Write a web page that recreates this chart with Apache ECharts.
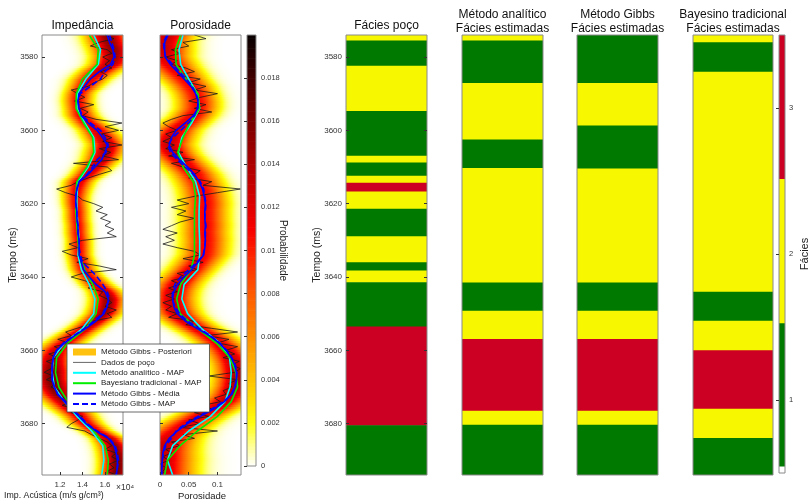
<!DOCTYPE html>
<html>
<head>
<meta charset="utf-8">
<script src="https://cdn.jsdelivr.net/npm/echarts@6/dist/echarts.min.js"></script>
<style>
  html, body { margin: 0; padding: 0; background: #fff; }
  #chart { width: 811px; height: 504px; }
</style>
</head>
<body>
<div id="chart"></div>
<script>
// ---------------- data ----------------
const T_MIN = 3574, T_MAX = 3694;
const timeTicks = [3580, 3600, 3620, 3640, 3660, 3680];
const impTicks = [1.2, 1.4, 1.6];
const porTicks = [0, 0.05, 0.1];
const probTicks = [0, 0.002, 0.004, 0.006, 0.008, 0.01, 0.012, 0.014, 0.016, 0.018];
const faciesTicks = [1, 2, 3];

// well log, 1 ms sampling starting at 3574 ms (impedance in 10^4 units)
const wellStart = 3574;
const wellImpedance = [
  1.60,1.68,1.55,1.47,1.62,1.66,1.58,1.64,1.60,1.66,
  1.56,1.62,1.58,1.50,1.45,1.30,1.36,1.42,1.33,1.50,
  1.38,1.45,1.40,1.52,1.75,1.60,1.72,1.57,1.66,1.58,
  1.75,1.55,1.65,1.58,1.72,1.32,1.62,1.66,1.55,1.45,
  1.36,1.30,1.17,1.25,1.36,1.40,1.50,1.58,1.52,1.62,
  1.56,1.65,1.60,1.68,1.62,1.70,1.40,1.28,1.36,1.22,
  1.30,1.45,1.35,1.55,1.70,1.40,1.30,1.42,1.50,1.45,
  1.58,1.55,1.62,1.66,1.60,1.70,1.62,1.66,1.50,1.45,
  1.35,1.25,1.30,1.18,1.28,1.15,1.22,1.10,1.18,1.08,
  1.15,1.12,1.06,1.14,1.08,1.16,1.12,1.20,1.17,1.24,
  1.30,1.22,1.33,1.30,1.40,1.36,1.30,1.26,1.42,1.48,
  1.55,1.62,1.66,1.60,1.70,1.66,1.72,1.64,1.68,1.62,
  1.70
];
const wellPorosity = [
  0.060,0.080,0.040,0.050,0.020,0.035,0.010,0.030,0.020,0.045,
  0.060,0.030,0.070,0.050,0.080,0.060,0.100,0.070,0.050,0.080,
  0.060,0.090,0.040,0.020,0.005,0.015,0.030,0.010,0.020,0.005,
  0.025,0.010,0.040,0.015,0.060,0.020,0.040,0.070,0.060,0.050,
  0.090,0.075,0.140,0.100,0.060,0.030,0.050,0.020,0.045,0.030,
  0.060,0.035,0.020,0.005,0.030,0.010,0.025,0.005,0.030,0.060,
  0.070,0.040,0.075,0.050,0.065,0.030,0.045,0.020,0.035,0.015,
  0.030,0.010,0.025,0.005,0.020,0.010,0.030,0.015,0.060,0.045,
  0.090,0.135,0.080,0.120,0.100,0.135,0.115,0.130,0.110,0.138,
  0.125,0.140,0.130,0.085,0.135,0.120,0.125,0.110,0.115,0.095,
  0.105,0.075,0.090,0.060,0.085,0.050,0.070,0.035,0.100,0.040,
  0.060,0.020,0.035,0.010,0.020,0.005,0.015,0.000,0.010,0.005,
  0.010
];

// 4 ms inversion samples
const coarseTimes = [3574,3578,3582,3586,3590,3594,3598,3602,3606,3610,3614,3618,3622,3626,3630,
  3634,3638,3642,3646,3650,3654,3658,3662,3666,3670,3674,3678,3682,3686,3690,3694];
const analyticImpedance = [1.50,1.56,1.54,1.43,1.355,1.35,1.42,1.50,1.51,1.45,1.36,1.35,1.35,1.36,1.37,
  1.36,1.39,1.46,1.51,1.50,1.40,1.24,1.14,1.13,1.15,1.24,1.35,1.48,1.58,1.59,1.57];
const bayesImpedance = [1.46,1.54,1.53,1.40,1.345,1.342,1.41,1.49,1.50,1.44,1.35,1.34,1.34,1.35,1.36,
  1.37,1.42,1.49,1.54,1.52,1.43,1.27,1.17,1.16,1.19,1.27,1.37,1.50,1.60,1.63,1.62];
const analyticPorosity = [0.040,0.033,0.036,0.050,0.065,0.069,0.055,0.038,0.032,0.046,0.062,0.069,0.068,0.068,0.069,
  0.069,0.066,0.042,0.038,0.048,0.072,0.104,0.121,0.124,0.122,0.113,0.088,0.050,0.022,0.013,0.022];
const bayesPorosity = [0.036,0.027,0.028,0.045,0.066,0.069,0.052,0.040,0.031,0.040,0.058,0.062,0.060,0.060,0.060,
  0.060,0.054,0.036,0.029,0.035,0.065,0.098,0.122,0.132,0.135,0.124,0.100,0.065,0.035,0.013,0.008];

// posterior spread and peak probability along the trace
const impSpread = [0.12,0.12,0.11,0.10,0.08,0.08,0.09,0.10,0.10,0.09,0.08,0.07,0.065,0.065,0.065,
  0.065,0.07,0.08,0.09,0.09,0.09,0.10,0.11,0.12,0.12,0.11,0.09,0.08,0.09,0.09,0.09];
const impPeak = [0.015,0.015,0.014,0.012,0.011,0.011,0.012,0.013,0.014,0.013,0.012,0.011,0.011,0.011,0.011,
  0.011,0.011,0.012,0.015,0.015,0.013,0.012,0.014,0.016,0.016,0.014,0.012,0.012,0.015,0.016,0.016];
const porSpread = [0.028,0.028,0.027,0.025,0.023,0.023,0.024,0.025,0.025,0.025,0.025,0.025,0.025,0.025,0.025,
  0.025,0.024,0.024,0.024,0.024,0.024,0.024,0.024,0.024,0.024,0.025,0.027,0.030,0.034,0.036,0.036];
const porPeak = [0.013,0.013,0.012,0.011,0.011,0.011,0.012,0.013,0.013,0.012,0.011,0.011,0.011,0.011,0.011,
  0.011,0.012,0.013,0.013,0.013,0.012,0.012,0.013,0.014,0.014,0.013,0.012,0.012,0.013,0.013,0.013];

// 2 ms Gibbs sampler results
const fineTimes = [3574,3576,3578,3580,3582,3584,3586,3588,3590,3592,3594,3596,3598,3600,3602,3604,3606,3608,
  3610,3612,3614,3616,3618,3620,3622,3624,3626,3628,3630,3632,3634,3636,3638,3640,3642,3644,3646,3648,
  3650,3652,3654,3656,3658,3660,3662,3664,3666,3668,3670,3672,3674,3676,3678,3680,3682,3684,3686,3688,
  3690,3692,3694];
const gibbsMeanImpedance = [1.62,1.64,1.67,1.68,1.65,1.55,1.47,1.42,1.37,1.36,1.37,1.39,1.45,1.53,1.58,1.62,1.60,1.57,
  1.51,1.45,1.37,1.35,1.34,1.34,1.35,1.35,1.36,1.36,1.37,1.37,1.37,1.39,1.41,1.46,1.52,1.60,1.63,1.62,
  1.59,1.52,1.43,1.33,1.24,1.17,1.14,1.13,1.13,1.13,1.15,1.18,1.24,1.30,1.37,1.43,1.52,1.63,1.68,1.70,
  1.71,1.71,1.70];
const gibbsMapImpedance = [1.64,1.66,1.68,1.69,1.67,1.60,1.56,1.47,1.38,1.36,1.37,1.40,1.47,1.56,1.60,1.63,1.61,1.53,
  1.49,1.44,1.37,1.35,1.34,1.34,1.35,1.35,1.36,1.36,1.37,1.37,1.38,1.40,1.47,1.53,1.58,1.62,1.64,1.61,
  1.58,1.50,1.42,1.32,1.23,1.17,1.14,1.13,1.13,1.13,1.15,1.18,1.25,1.31,1.38,1.44,1.53,1.64,1.69,1.71,
  1.72,1.71,1.70];
const gibbsMeanPorosity = [0.014,0.008,0.008,0.009,0.018,0.030,0.042,0.054,0.062,0.066,0.066,0.058,0.044,0.028,0.020,0.016,0.022,0.034,
  0.048,0.060,0.068,0.074,0.077,0.079,0.078,0.078,0.079,0.078,0.079,0.078,0.076,0.066,0.055,0.042,0.031,0.024,0.022,0.024,
  0.030,0.044,0.064,0.086,0.103,0.115,0.124,0.130,0.133,0.133,0.130,0.124,0.112,0.094,0.070,0.048,0.030,0.016,0.008,0.005,
  0.004,0.003,0.003];
const gibbsMapPorosity = [0.012,0.006,0.007,0.010,0.022,0.034,0.046,0.056,0.063,0.067,0.065,0.060,0.050,0.036,0.022,0.014,0.018,0.030,
  0.044,0.058,0.070,0.076,0.078,0.080,0.079,0.078,0.080,0.079,0.079,0.078,0.075,0.064,0.050,0.036,0.026,0.022,0.021,0.026,
  0.034,0.048,0.068,0.088,0.104,0.116,0.125,0.131,0.134,0.133,0.131,0.125,0.110,0.090,0.066,0.044,0.028,0.020,0.010,0.006,
  0.004,0.003,0.003];

// facies logs: layer boundaries (ms) and facies code per layer (1, 2, 3)
const wellFaciesBounds = [3574,3575.5,3582.4,3594.7,3606.9,3608.8,3612.4,3614.3,3616.7,3621.4,3628.9,3636.0,3638.2,3641.4,3653.5,3680.4,3694];
const wellFaciesCodes = [2,1,2,1,2,1,2,3,2,1,2,1,2,1,3,1];
const analyticFaciesBounds = [3574,3575.5,3587.1,3602.5,3610.3,3641.5,3649.2,3656.9,3676.5,3680.3,3694];
const analyticFaciesCodes = [2,1,2,1,2,1,2,3,2,1];
const gibbsFaciesBounds = [3574,3587.1,3598.7,3610.4,3641.5,3649.2,3656.9,3676.5,3680.3,3694];
const gibbsFaciesCodes = [1,2,1,2,1,2,3,2,1];
const bayesFaciesBounds = [3574,3576,3584,3644,3651.9,3660,3675.9,3683.9,3694];
const bayesFaciesCodes = [2,1,2,1,2,3,2,1];
// facies colour scale bands
const faciesBarBounds = [0.5, 0.549, 1.53, 2.517, 3.5];
const faciesBarCodes = [0, 1, 2, 3];

// ---------------- styling ----------------
const FONT = '"Liberation Sans", Arial, Helvetica, sans-serif';
const faciesColors = ['#ffffff', '#007900', '#f7f700', '#cc0022'];
// probability colour ramp, one stop per 0.001
const probColors = ['#ffffff','#ffff90','#ffff10','#ffe000','#ffc400','#ffa800','#ff8e00','#ff7400',
  '#ff5a00','#ff3c00','#ff1e00','#f80000','#e20000','#c80000','#ae0000','#940000','#7a0000',
  '#5e0000','#420000','#240000','#080000'];
const PROB_MAX = 0.02;
const BORDER = '#8a8a8a';

// ---------------- helpers ----------------
function interp(xs, ys, x) {
  if (x <= xs[0]) return ys[0];
  for (let i = 1; i < xs.length; i++) {
    if (x <= xs[i]) {
      const f = (x - xs[i - 1]) / (xs[i] - xs[i - 1]);
      return ys[i - 1] + f * (ys[i] - ys[i - 1]);
    }
  }
  return ys[ys.length - 1];
}
function pairs(times, vals) { return vals.map((v, i) => [v, times[i]]); }
function wellPairs(vals) { return vals.map((v, i) => [v, wellStart + i]); }

// posterior density cells [value, time, probability, cellWidth, cellHeight]
function densityCells(meanVals, spread, peak, vMin, vMax, cols) {
  const out = [];
  const dv = (vMax - vMin) / cols, dt = 0.5;
  for (let t = T_MIN + dt / 2; t < T_MAX; t += dt) {
    const mu = interp(fineTimes, meanVals, t);
    const s = interp(coarseTimes, spread, t);
    const a = interp(coarseTimes, peak, t);
    for (let i = 0; i < cols; i++) {
      const v = vMin + (i + 0.5) * dv;
      const z = (v - mu) / s;
      const p = a * Math.exp(-0.5 * z * z);
      if (p > 2e-5) out.push([v, t, p, dv, dt]);
    }
  }
  return out;
}

function cellRect(params, api, x0, y0, x1, y1) {
  const a = api.coord([x0, y0]);
  const b = api.coord([x1, y1]);
  const cs = params.coordSys;
  return echarts.graphic.clipRectByRect(
    { x: Math.min(a[0], b[0]), y: Math.min(a[1], b[1]),
      width: Math.abs(b[0] - a[0]) + 0.6, height: Math.abs(b[1] - a[1]) + 0.6 },
    { x: cs.x, y: cs.y, width: cs.width, height: cs.height });
}

function renderDensity(params, api) {
  const v = api.value(0), t = api.value(1), dv = api.value(3), dt = api.value(4);
  const shape = cellRect(params, api, v - dv / 2, t - dt / 2, v + dv / 2, t + dt / 2);
  return shape && { type: 'rect', shape: shape, style: { fill: api.visual('color') } };
}

function renderProbBar(params, api) {
  const v = api.value(1), dv = api.value(3);
  const shape = cellRect(params, api, 0, v - dv / 2, 1, v + dv / 2);
  return shape && { type: 'rect', shape: shape, style: { fill: api.visual('color') } };
}

function renderLayer(params, api) {
  const shape = cellRect(params, api, 0, api.value(1), 1, api.value(2));
  return shape && { type: 'rect', shape: shape, style: { fill: faciesColors[api.value(3)] } };
}

function layers(bounds, codes) {
  return codes.map((c, i) => [0.5, bounds[i], bounds[i + 1], c]);
}

// ---------------- layout ----------------
const panelTop = 35, panelHeight = 440;
const grids = [
  { left: 42,  top: panelTop, width: 81, height: panelHeight },   // impedance
  { left: 160, top: panelTop, width: 81, height: panelHeight },   // porosity
  { left: 247, top: panelTop, width: 9,  height: 431 },           // probability scale
  { left: 346, top: panelTop, width: 81, height: panelHeight },   // well facies
  { left: 462, top: panelTop, width: 81, height: panelHeight },   // analytic facies
  { left: 577, top: panelTop, width: 81, height: panelHeight },   // Gibbs facies
  { left: 693, top: panelTop, width: 80, height: panelHeight },   // Bayesian facies
  { left: 779, top: panelTop, width: 9,  height: 438 }            // facies scale
].map(g => Object.assign(g, { show: true, borderColor: BORDER, borderWidth: 1,
  backgroundColor: 'transparent', z: 10 }));

const tickLabel = { fontFamily: FONT, fontSize: 8, color: '#333' };

function timeAxis(gridIndex, labelled, position) {
  return {
    type: 'value', gridIndex: gridIndex, inverse: true, min: T_MIN, max: T_MAX, z: 11,
    position: position || 'left',
    axisLine: { show: false },
    splitLine: { show: false },
    axisTick: labelled === null ? { show: false } :
      { show: true, inside: true, length: 3, customValues: timeTicks, lineStyle: { color: '#333' } },
    axisLabel: labelled ? Object.assign({ show: true, margin: 4, customValues: timeTicks,
                            formatter: v => String(v) }, tickLabel)
                        : { show: false },
    name: labelled ? 'Tempo (ms)' : '',
    nameLocation: 'middle', nameGap: 23, nameMoveOverlap: false,
    nameTextStyle: { fontFamily: FONT, fontSize: 10.5, color: '#222' }
  };
}
function blankX(gridIndex) {
  return { type: 'value', gridIndex: gridIndex, min: 0, max: 1, show: false };
}

const xAxes = [
  { type: 'value', gridIndex: 0, min: 1.04, max: 1.76, z: 11,
    axisLine: { show: false }, splitLine: { show: false },
    axisTick: { inside: true, length: 3, customValues: impTicks, lineStyle: { color: '#333' } },
    axisLabel: Object.assign({ margin: 6, customValues: impTicks, formatter: v => v.toFixed(1) }, tickLabel) },
  { type: 'value', gridIndex: 1, min: 0, max: 0.141, z: 11,
    axisLine: { show: false }, splitLine: { show: false },
    axisTick: { inside: true, length: 3, customValues: porTicks, lineStyle: { color: '#333' } },
    axisLabel: Object.assign({ margin: 6, customValues: porTicks, formatter: v => (v === 0 ? '0' : String(v)) }, tickLabel) },
  blankX(2), blankX(3), blankX(4), blankX(5), blankX(6), blankX(7)
];

const yAxes = [
  timeAxis(0, true),
  timeAxis(1, false),
  { type: 'value', gridIndex: 2, position: 'right', min: 0, max: PROB_MAX, z: 11,
    axisLine: { show: false }, splitLine: { show: false },
    axisTick: { inside: true, length: 3, customValues: probTicks, lineStyle: { color: '#333' } },
    axisLabel: { margin: 5, customValues: probTicks, fontFamily: FONT, fontSize: 7.5, color: '#333',
      formatter: v => (v === 0 ? '0' : v.toFixed(3).replace(/0+$/, '')) },
    name: 'Probabilidade', nameLocation: 'middle', nameRotate: -90, nameGap: 22, nameMoveOverlap: false,
    nameTextStyle: { fontFamily: FONT, fontSize: 10, color: '#222' } },
  timeAxis(3, true),
  timeAxis(4, null),
  timeAxis(5, null),
  timeAxis(6, null),
  { type: 'value', gridIndex: 7, position: 'right', min: 0.5, max: 3.5, z: 11,
    axisLine: { show: false }, splitLine: { show: false },
    axisTick: { inside: true, length: 3, customValues: faciesTicks, lineStyle: { color: '#333' } },
    axisLabel: { margin: 4, customValues: faciesTicks, fontFamily: FONT, fontSize: 7.5, color: '#333' },
    name: 'Fácies', nameLocation: 'middle', nameRotate: 90, nameGap: 14, nameMoveOverlap: false,
    nameTextStyle: { fontFamily: FONT, fontSize: 11, color: '#222' } },
  // inner tick marks on the right edge of the well facies column and the impedance panel
  Object.assign(timeAxis(3, false, 'right'), { name: '' }),
  Object.assign(timeAxis(0, false, 'right'), { name: '' })
];

// ---------------- series ----------------
const probBarData = [];
for (let i = 0; i < 130; i++) {
  const step = PROB_MAX / 130;
  const v = (i + 0.5) * step;
  probBarData.push([0.5, v, v, step]);
}

function curve(name, xi, data, color, width, dashed, z) {
  return {
    type: 'line', name: name, xAxisIndex: xi, yAxisIndex: xi, data: data,
    showSymbol: false, symbol: 'none', smooth: false, clip: true, z: z,
    lineStyle: { color: color, width: width, type: dashed ? [6, 3] : 'solid' },
    itemStyle: { color: color }
  };
}

const WELL = 'Dados de poço', ANA = 'Método analítico - MAP', BAY = 'Bayesiano tradicional - MAP',
      MEAN = 'Método Gibbs - Média', MAP = 'Método Gibbs - MAP', POST = 'Método Gibbs - Posteriori';

const series = [
  { type: 'custom', name: POST, xAxisIndex: 0, yAxisIndex: 0, renderItem: renderDensity,
    data: densityCells(gibbsMeanImpedance, impSpread, impPeak, 1.04, 1.76, 81),
    encode: { x: 0, y: 1 }, silent: true, z: 1, progressive: 0 },
  { type: 'custom', name: POST, xAxisIndex: 1, yAxisIndex: 1, renderItem: renderDensity,
    data: densityCells(gibbsMeanPorosity, porSpread, porPeak, 0, 0.141, 81),
    encode: { x: 0, y: 1 }, silent: true, z: 1, progressive: 0 },
  { type: 'custom', xAxisIndex: 2, yAxisIndex: 2, renderItem: renderProbBar,
    data: probBarData, encode: { x: 0, y: 1 }, silent: true, z: 1 },

  curve(WELL, 0, wellPairs(wellImpedance), '#1a1a1a', 0.8, false, 3),
  curve(ANA, 0, pairs(coarseTimes, analyticImpedance), '#00ffff', 1.6, false, 4),
  curve(BAY, 0, pairs(coarseTimes, bayesImpedance), '#00ee00', 1.6, false, 4),
  curve(MEAN, 0, pairs(fineTimes, gibbsMeanImpedance), '#0000ff', 1.6, false, 5),
  curve(MAP, 0, pairs(fineTimes, gibbsMapImpedance), '#0000ff', 1.6, true, 5),

  curve(WELL, 1, wellPairs(wellPorosity), '#1a1a1a', 0.8, false, 3),
  curve(ANA, 1, pairs(coarseTimes, analyticPorosity), '#00ffff', 1.6, false, 4),
  curve(BAY, 1, pairs(coarseTimes, bayesPorosity), '#00ee00', 1.6, false, 4),
  curve(MEAN, 1, pairs(fineTimes, gibbsMeanPorosity), '#0000ff', 1.6, false, 5),
  curve(MAP, 1, pairs(fineTimes, gibbsMapPorosity), '#0000ff', 1.6, true, 5),

  { type: 'custom', xAxisIndex: 3, yAxisIndex: 3, renderItem: renderLayer,
    data: layers(wellFaciesBounds, wellFaciesCodes), encode: { x: 0, y: [1, 2] }, silent: true },
  { type: 'custom', xAxisIndex: 4, yAxisIndex: 4, renderItem: renderLayer,
    data: layers(analyticFaciesBounds, analyticFaciesCodes), encode: { x: 0, y: [1, 2] }, silent: true },
  { type: 'custom', xAxisIndex: 5, yAxisIndex: 5, renderItem: renderLayer,
    data: layers(gibbsFaciesBounds, gibbsFaciesCodes), encode: { x: 0, y: [1, 2] }, silent: true },
  { type: 'custom', xAxisIndex: 6, yAxisIndex: 6, renderItem: renderLayer,
    data: layers(bayesFaciesBounds, bayesFaciesCodes), encode: { x: 0, y: [1, 2] }, silent: true },
  { type: 'custom', xAxisIndex: 7, yAxisIndex: 7, renderItem: renderLayer,
    data: layers(faciesBarBounds, faciesBarCodes), encode: { x: 0, y: [1, 2] }, silent: true }
];

const titleStyle = { fontFamily: FONT, fontSize: 12, fontWeight: 'normal', color: '#111', lineHeight: 13.5 };
function panelTitle(text, cx, top) {
  return { text: text, left: cx, top: top, textAlign: 'center', padding: 0, textStyle: titleStyle };
}

const option = {
  animation: false,
  backgroundColor: '#ffffff',
  title: [
    panelTitle('Impedância', 82.5, 19),
    panelTitle('Porosidade', 200.5, 19),
    panelTitle('Fácies poço', 386.5, 19),
    panelTitle('Método analítico\nFácies estimadas', 502.5, 8),
    panelTitle('Método Gibbs\nFácies estimadas', 617.5, 8),
    panelTitle('Bayesino tradicional\nFácies estimadas', 733, 8)
  ],
  grid: grids,
  xAxis: xAxes,
  yAxis: yAxes,
  visualMap: [{
    type: 'continuous', show: false, min: 0, max: PROB_MAX, dimension: 2,
    seriesIndex: [0, 1, 2], inRange: { color: probColors }
  }],
  legend: {
    left: 67, top: 344, orient: 'vertical', z: 20,
    backgroundColor: '#ffffff', borderColor: '#444', borderWidth: 0.8,
    padding: [3, 8, 3, 5], itemGap: 0.4, itemWidth: 23, itemHeight: 7,
    itemStyle: { opacity: 0 },
    textStyle: { fontFamily: FONT, fontSize: 8, color: '#222', lineHeight: 10 },
    data: [
      { name: POST, icon: 'rect', itemStyle: { color: '#ffc20e', opacity: 1 } },
      { name: WELL, lineStyle: { color: '#666', width: 1 } },
      { name: ANA },
      { name: BAY },
      { name: MEAN },
      { name: MAP }
    ]
  },
  graphic: [
    { type: 'text', left: 4, top: 491, style: { text: 'Imp. Acústica (m/s g/cm³)', font: '8.8px ' + FONT, fill: '#222' } },
    { type: 'text', left: 116, top: 483, style: { text: '×10⁴', font: '8.5px ' + FONT, fill: '#333' } },
    { type: 'text', left: 178, top: 491, style: { text: 'Porosidade', font: '9.5px ' + FONT, fill: '#222' } }
  ],
  series: series
};

const chart = echarts.init(document.getElementById('chart'), null, { renderer: 'canvas' });
chart.setOption(option);
</script>
</body>
</html>
